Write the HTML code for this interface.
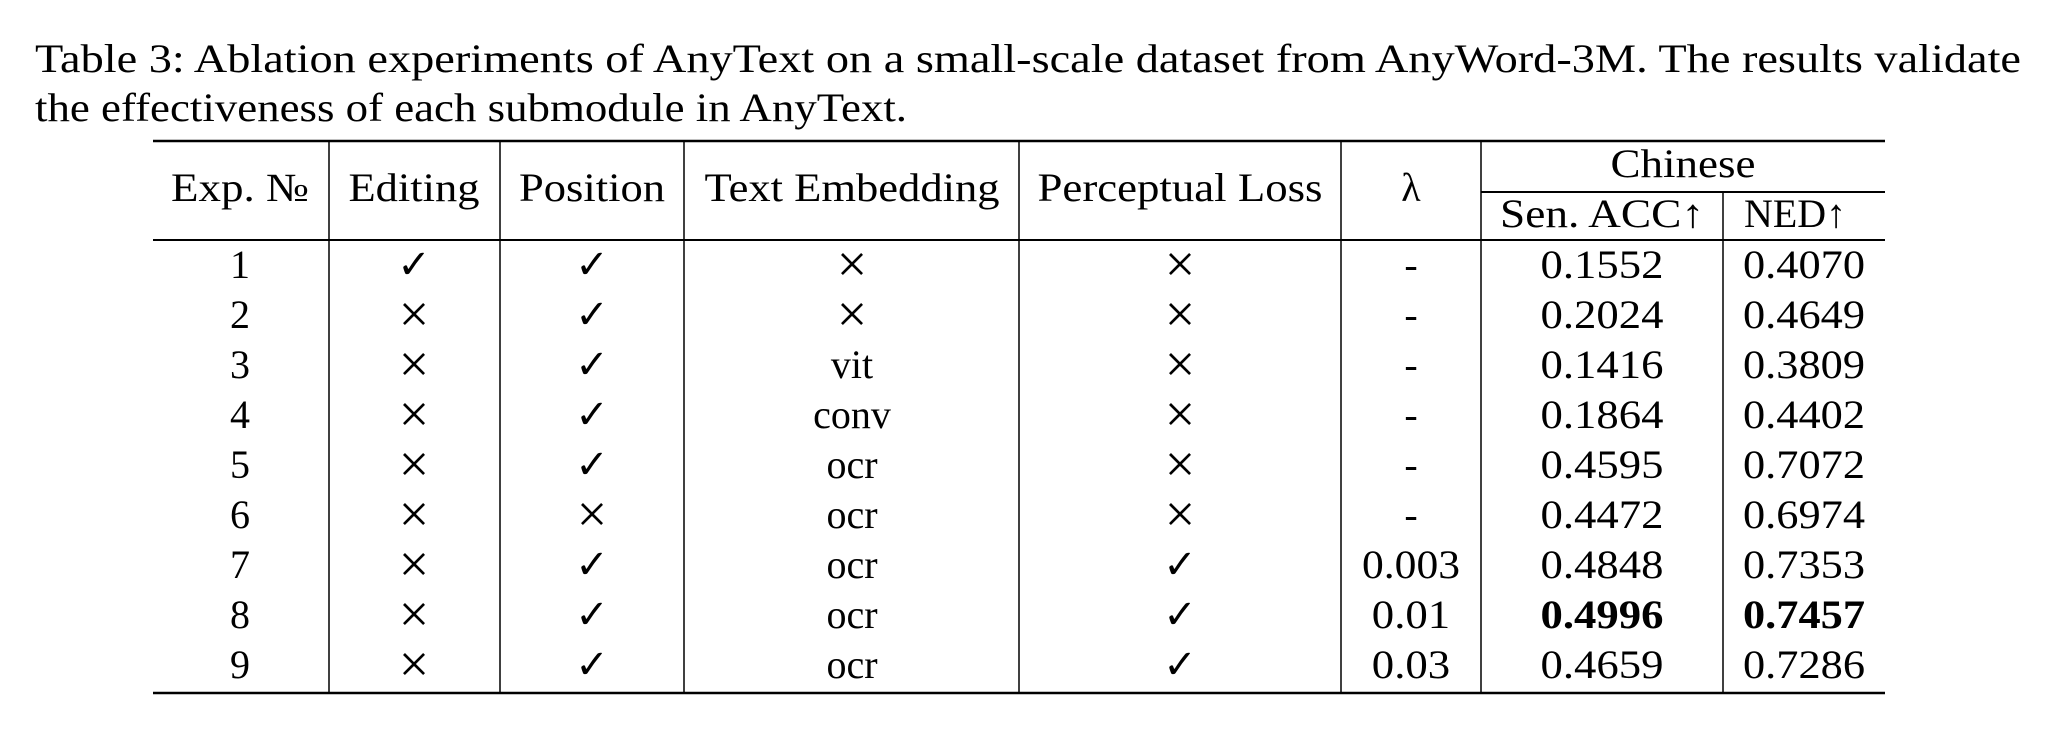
<!DOCTYPE html>
<html><head><meta charset="utf-8"><style>
html,body{margin:0;padding:0;background:#fff;}
svg{display:block;}
text{font-family:"Liberation Serif","DejaVu Serif",serif;fill:#000;}
</style></head><body>
<svg id="s" width="2050" height="740" viewBox="0 0 2050 740">
<text x="35" y="72" font-size="40" textLength="1986" lengthAdjust="spacingAndGlyphs">Table 3:  Ablation experiments of AnyText on a small-scale dataset from AnyWord-3M. The results validate</text>
<text x="35" y="121" font-size="40" textLength="872" lengthAdjust="spacingAndGlyphs">the effectiveness of each submodule in AnyText.</text>
<g id="rules" stroke="#000">
<line x1="153" y1="141" x2="1885" y2="141" stroke-width="2.5"/>
<line x1="1481" y1="192" x2="1885" y2="192" stroke-width="2"/>
<line x1="153" y1="240" x2="1885" y2="240" stroke-width="2"/>
<line x1="153" y1="693" x2="1885" y2="693" stroke-width="2.5"/>
<line x1="329" y1="141" x2="329" y2="693" stroke-width="1.5"/>
<line x1="500" y1="141" x2="500" y2="693" stroke-width="1.5"/>
<line x1="684" y1="141" x2="684" y2="693" stroke-width="1.5"/>
<line x1="1019" y1="141" x2="1019" y2="693" stroke-width="1.5"/>
<line x1="1341" y1="141" x2="1341" y2="693" stroke-width="1.5"/>
<line x1="1481" y1="141" x2="1481" y2="693" stroke-width="1.5"/>
<line x1="1723" y1="192" x2="1723" y2="693" stroke-width="1.5"/>
</g>
<g font-size="40" text-anchor="middle">
<text x="240" y="201" textLength="138" lengthAdjust="spacingAndGlyphs">Exp. №</text>
<text x="414" y="201" textLength="131" lengthAdjust="spacingAndGlyphs">Editing</text>
<text x="592" y="201" textLength="146" lengthAdjust="spacingAndGlyphs">Position</text>
<text x="852" y="201" textLength="295" lengthAdjust="spacingAndGlyphs">Text Embedding</text>
<text x="1180" y="201" textLength="285" lengthAdjust="spacingAndGlyphs">Perceptual Loss</text>
<text x="1411" y="201">λ</text>
<text x="1683" y="177" textLength="145" lengthAdjust="spacingAndGlyphs">Chinese</text>
<text x="1602" y="227" textLength="204" lengthAdjust="spacingAndGlyphs">Sen. ACC↑</text>
<text x="1795" y="227" textLength="102" lengthAdjust="spacingAndGlyphs">NED↑</text>
</g>
<g id="body" font-size="40" text-anchor="middle"></g>
</svg>
<script>
const expNo=["1","2","3","4","5","6","7","8","9"];
const editing=[1,0,0,0,0,0,0,0,0];
const position=[1,1,1,1,1,0,1,1,1];
const textEmb=["×","×","vit","conv","ocr","ocr","ocr","ocr","ocr"];
const percLoss=[0,0,0,0,0,0,1,1,1];
const lambdas=["-","-","-","-","-","-","0.003","0.01","0.03"];
const senAcc=["0.1552","0.2024","0.1416","0.1864","0.4595","0.4472","0.4848","0.4996","0.4659"];
const ned=["0.4070","0.4649","0.3809","0.4402","0.7072","0.6974","0.7353","0.7457","0.7286"];
const bestRow=7;
const g=document.getElementById('body');
const NS="http://www.w3.org/2000/svg";
function t(x,y,s,name,len,bold){
  const e=document.createElementNS(NS,'text');
  e.setAttribute('x',x);e.setAttribute('y',y);
  if(len){e.setAttribute('textLength',len);e.setAttribute('lengthAdjust','spacingAndGlyphs');}
  if(bold)e.setAttribute('font-weight','bold');
  if(s==="×"){e.setAttribute('font-size','54');e.setAttribute('y',y+4);}
  
  
  e.textContent=s;g.appendChild(e);
}
const mk=v=>v?"✓":"×";
for(let i=0;i<expNo.length;i++){
  const y=264+i*50+14;
  t(240,y,expNo[i],'exp-number-'+(i+1));
  t(414,y,mk(editing[i]),'editing-mark-'+(i+1));
  t(592,y,mk(position[i]),'position-mark-'+(i+1));
  t(852,y,textEmb[i],'text-embedding-'+(i+1));
  t(1180,y,mk(percLoss[i]),'perceptual-loss-mark-'+(i+1));
  t(1411,y,lambdas[i],'lambda-value-'+(i+1),lambdas[i].length>3?lambdas[i].length*19.6:null);
  t(1602,y,senAcc[i],'sen-acc-value-'+(i+1),123,i===bestRow);
  t(1804,y,ned[i],'ned-value-'+(i+1),122,i===bestRow);
}
</script>
</body></html>
